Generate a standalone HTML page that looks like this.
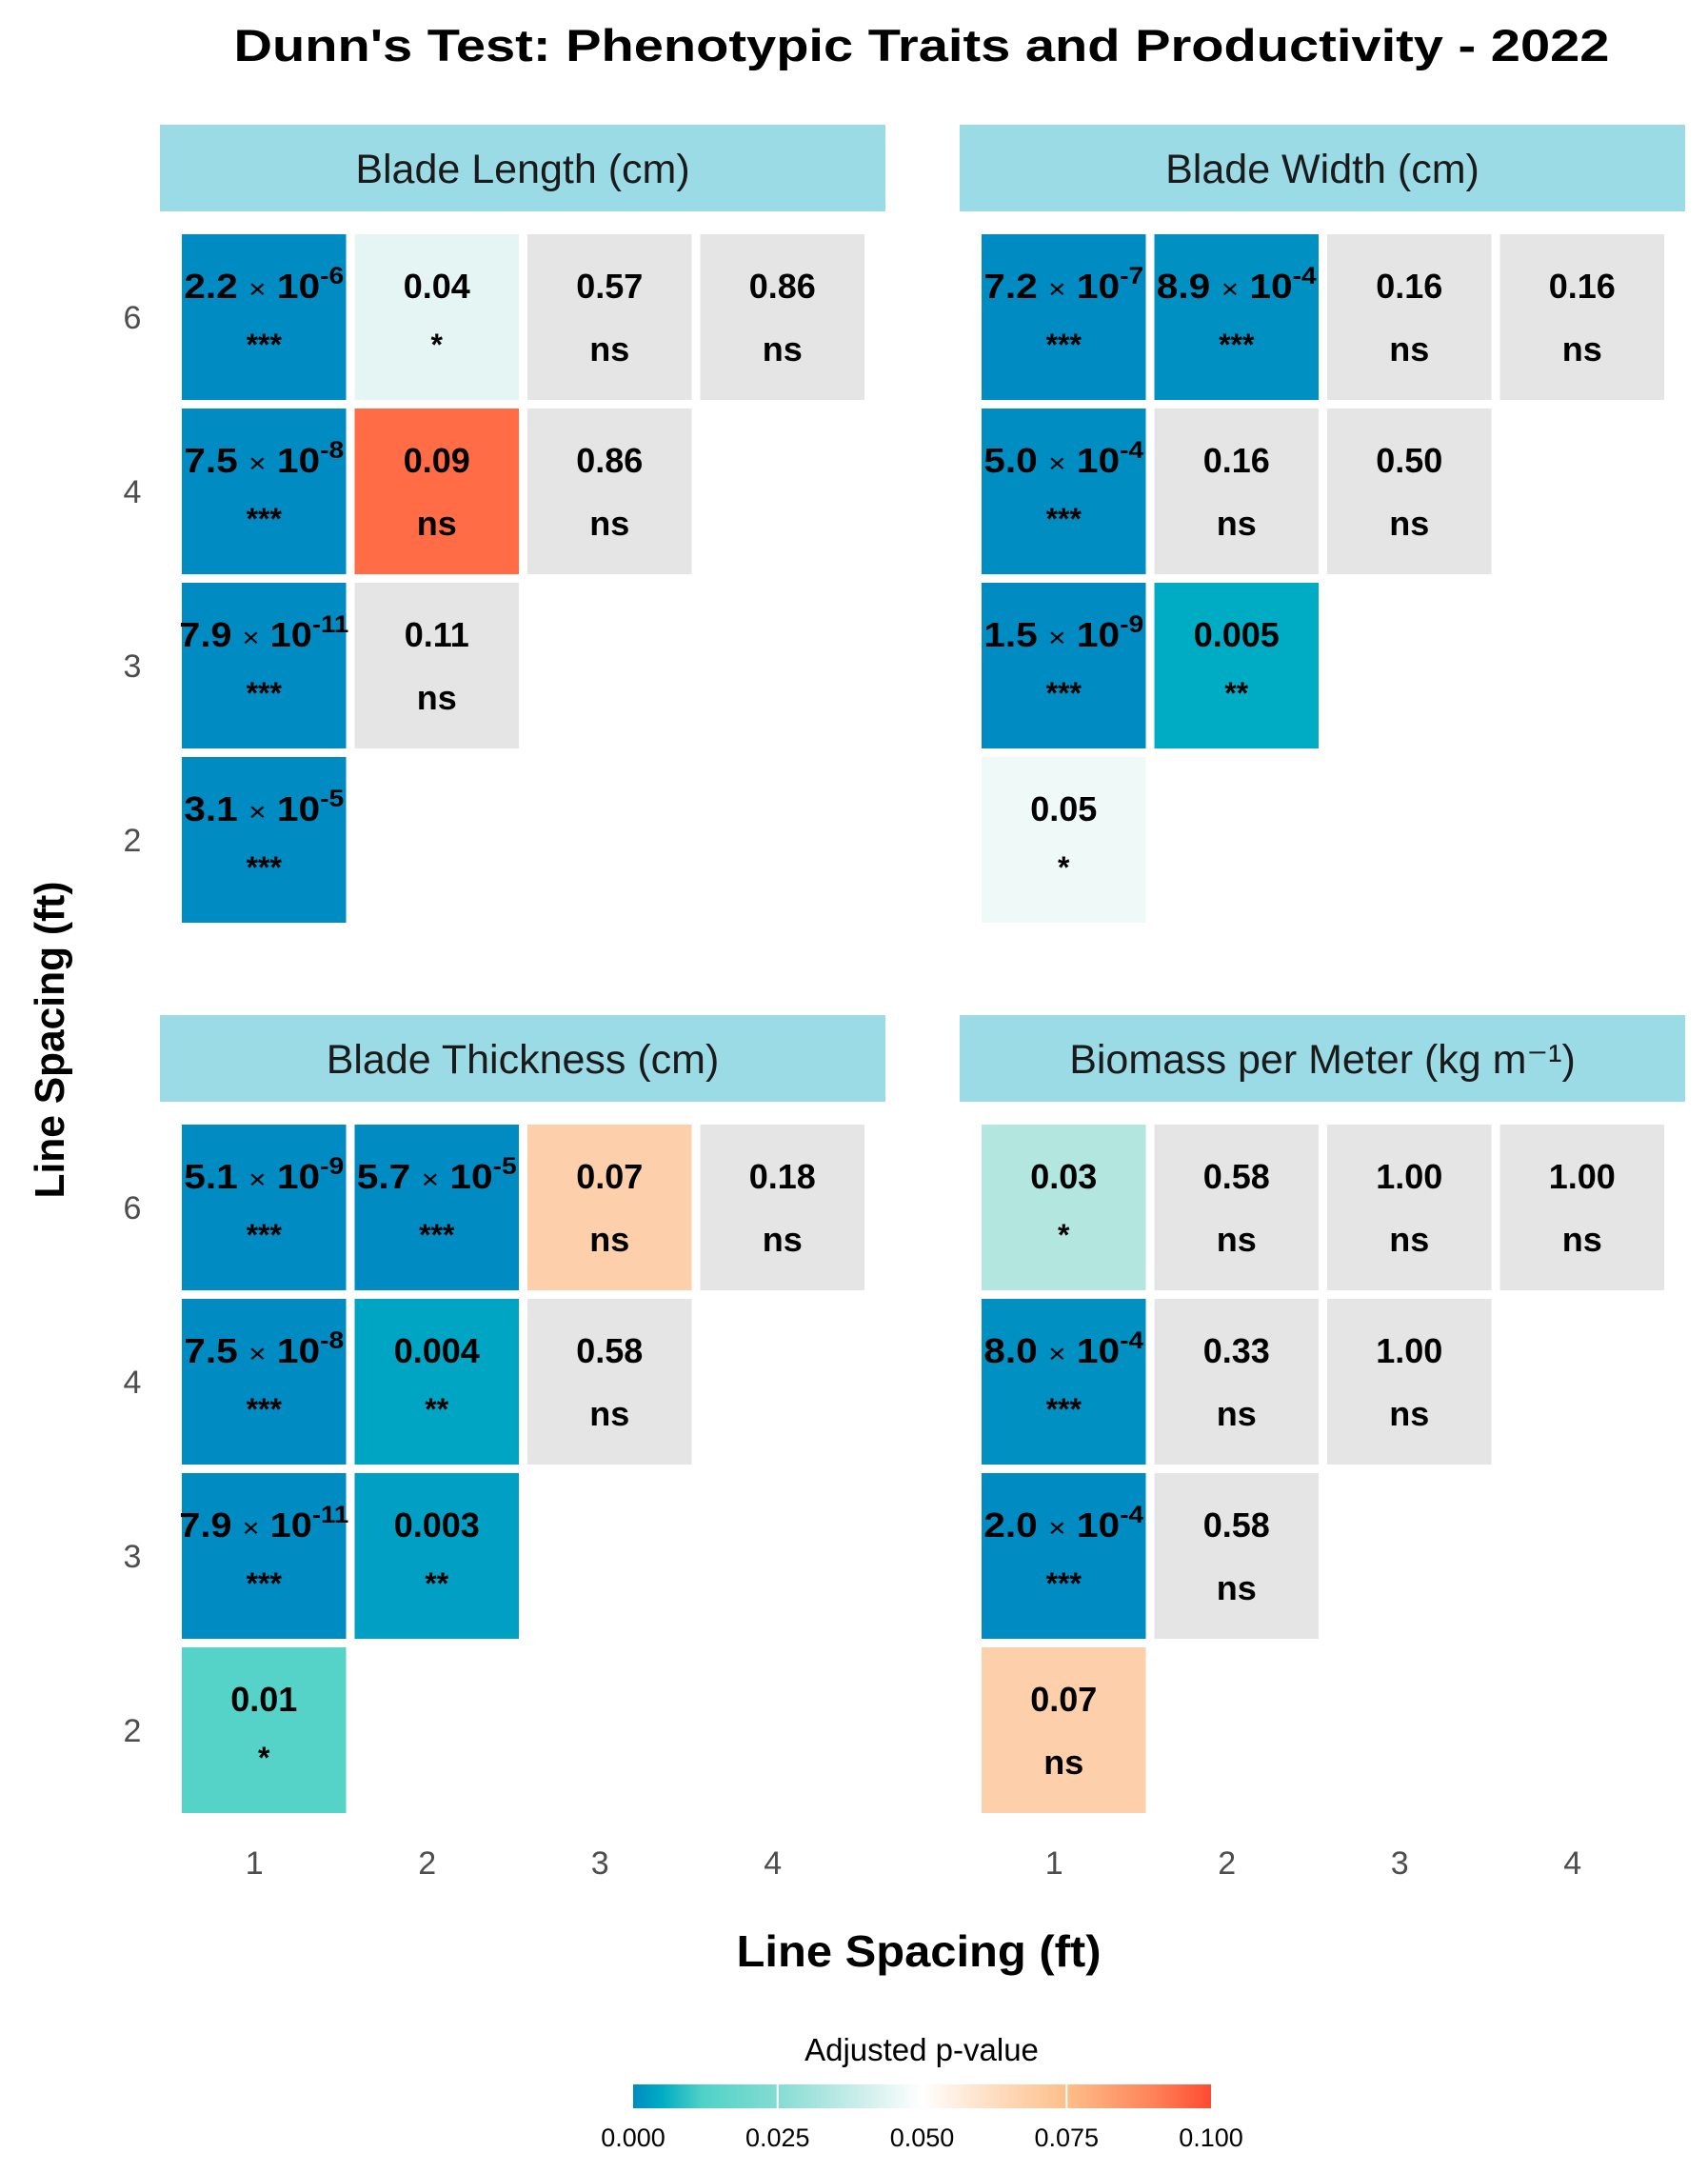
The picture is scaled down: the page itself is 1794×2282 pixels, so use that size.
<!DOCTYPE html>
<html><head><meta charset="utf-8">
<style>
html,body{margin:0;padding:0;background:#fff;}
svg{display:block;font-family:"Liberation Sans",Arial,sans-serif;}
</style></head>
<body>
<svg id="chart" width="1794" height="2282" viewBox="0 0 1794 2282" xmlns="http://www.w3.org/2000/svg">
<defs>
<linearGradient id="cbar" x1="0" x2="1" y1="0" y2="0">
<stop offset="0" stop-color="#008bc2"/>
<stop offset="0.05" stop-color="#00acc4"/>
<stop offset="0.12" stop-color="#4fd2c6"/>
<stop offset="0.25" stop-color="#84dcd3"/>
<stop offset="0.40" stop-color="#d0efeb"/>
<stop offset="0.5" stop-color="#ffffff"/>
<stop offset="0.6" stop-color="#fee3cc"/>
<stop offset="0.75" stop-color="#fdbf8a"/>
<stop offset="0.9" stop-color="#ff8258"/>
<stop offset="1" stop-color="#ff4a30"/>
</linearGradient>
</defs>
<text x="968" y="64" text-anchor="middle" font-size="47" font-weight="bold" fill="#000" textLength="1445" lengthAdjust="spacingAndGlyphs">Dunn's Test: Phenotypic Traits and Productivity - 2022</text>
<text transform="translate(67,1092) rotate(-90)" text-anchor="middle" font-size="44" font-weight="bold" textLength="333" lengthAdjust="spacingAndGlyphs">Line Spacing (ft)</text>
<text x="965" y="2065" text-anchor="middle" font-size="46" font-weight="bold" textLength="383" lengthAdjust="spacingAndGlyphs">Line Spacing (ft)</text>
<g id="panels"></g>
<g>
<text x="968" y="2164" text-anchor="middle" font-size="33" fill="#000">Adjusted p-value</text>
<rect x="665" y="2189" width="607" height="25" fill="url(#cbar)"/>
<g id="legend-ticks"></g>
</g>
</svg>
<script>
const panelTitles = ["Blade Length (cm)", "Blade Width (cm)", "Blade Thickness (cm)", "Biomass per Meter (kg m\u207B\u00B9)"];
const xCats = [1, 2, 3, 4];
const yCats = [6, 4, 3, 2];
const bladeLength = [[2.2e-6, 0.04, 0.57, 0.86], [7.5e-8, 0.09, 0.86], [7.9e-11, 0.11], [3.1e-5]];
const bladeWidth = [[7.2e-7, 8.9e-4, 0.16, 0.16], [5.0e-4, 0.16, 0.50], [1.5e-9, 0.005], [0.049]];
const bladeThickness = [[5.1e-9, 5.7e-5, 0.07, 0.18], [7.5e-8, 0.004, 0.58], [7.9e-11, 0.003], [0.01]];
const biomass = [[0.03, 0.58, 1.00, 1.00], [8.0e-4, 0.33, 1.00], [2.0e-4, 0.58], [0.07]];
const legendTicks = [0, 0.025, 0.05, 0.075, 0.1];

const NS = "http://www.w3.org/2000/svg";
const panelsData = [bladeLength, bladeWidth, bladeThickness, biomass];
const panelOrigins = [[168, 131], [1008, 131], [168, 1066], [1008, 1066]];
function xPos(ox, i) { return ox + 23 + i * 181.5; }
function yPos(oy, j) { return oy + 115 + j * 183; }
const cellW = 172.5, cellH = 174;

const stops = [[0, [0, 139, 194]], [0.005, [0, 172, 196]], [0.01, [85, 211, 200]], [0.025, [140, 222, 213]], [0.03, [180, 230, 224]], [0.04, [228, 245, 243]], [0.05, [240, 249, 248]], [0.07, [253, 208, 171]], [0.09, [255, 108, 69]], [0.1, [255, 74, 48]]];
function colorFor(p) {
  if (p > 0.1) return "#e5e5e5";
  for (let k = 1; k < stops.length; k++) {
    if (p <= stops[k][0]) {
      const a = stops[k - 1], b = stops[k];
      const t = (p - a[0]) / (b[0] - a[0]);
      const c = a[1].map((v, i) => Math.round(v + (b[1][i] - v) * t));
      return "rgb(" + c.join(",") + ")";
    }
  }
  return "#ff4a30";
}
function sig(p) { return p < 0.001 ? "***" : p < 0.01 ? "**" : p <= 0.05 ? "*" : "ns"; }
function mk(tag, attrs, parent) {
  const e = document.createElementNS(NS, tag);
  for (const k in attrs) e.setAttribute(k, attrs[k]);
  parent.appendChild(e);
  return e;
}
const root = document.getElementById("panels");
panelsData.forEach((data, pi) => {
  const [ox, oy] = panelOrigins[pi];
  const g = mk("g", {}, root);
  
  
  const strip = mk("rect", { x: ox, y: oy, width: 762, height: 91, fill: "#9bdbe6" }, g);
  
  
  const st = mk("text", { x: ox + 381, y: oy + 61, "text-anchor": "middle", "font-size": 43, fill: "#1a1a1a" }, g);
  st.textContent = panelTitles[pi];
  
  
  if (pi % 2 === 0) {
    yCats.forEach((yc, j) => {
      const t = mk("text", { x: 139, y: yPos(oy, j) + cellH / 2 + 12, "text-anchor": "middle", "font-size": 34, fill: "#4d4d4d" }, g);
      t.textContent = yc;
      
      
    });
  }
  if (pi >= 2) {
    xCats.forEach((xc, i) => {
      const t = mk("text", { x: xPos(ox, i) + cellW / 2 - 10, y: 1968, "text-anchor": "middle", "font-size": 34, fill: "#4d4d4d" }, g);
      t.textContent = xc;
      
      
    });
  }
  data.forEach((row, j) => {
    row.forEach((p, i) => {
      const x = xPos(ox, i), y = yPos(oy, j);
      const r = mk("rect", { x: x, y: y, width: cellW, height: cellH, fill: colorFor(p) }, g);
      
      
      const cx = x + cellW / 2, cy = y + cellH / 2;
      const vt = mk("text", { x: cx, y: cy - 20, "text-anchor": "middle", "font-size": 36, "font-weight": "bold", fill: "#000" }, g);
      
      
      if (p < 0.001) {
        const ex = Math.floor(Math.log10(p));
        const m = (p / Math.pow(10, ex)).toFixed(1);
        const s1 = mk("tspan", {}, vt); s1.textContent = m + " ";
        const s2 = mk("tspan", { "font-weight": "normal", "font-size": 28 }, vt); s2.textContent = "\u00D7";
        const s3 = mk("tspan", {}, vt); s3.textContent = " 10";
        const s4 = mk("tspan", { "font-size": 25, dy: -15 }, vt); s4.textContent = String(ex);
        const w = String(ex).length > 2 ? 178 : 168;
        vt.setAttribute("textLength", w);
        vt.setAttribute("lengthAdjust", "spacingAndGlyphs");
      } else {
        vt.textContent = p < 0.01 ? p.toFixed(3) : p.toFixed(2);
      }
      const s = sig(p);
      const sg = mk("text", { x: cx, y: s === "ns" ? cy + 46 : cy + 40, "text-anchor": "middle", "font-size": s === "ns" ? 36 : 32, "font-weight": "bold", fill: "#000" }, g);
      sg.textContent = s;
      
      
    });
  });
});
const lt = document.getElementById("legend-ticks");
legendTicks.forEach((v) => {
  const x = 665 + (v / 0.1) * 607;
  if (v > 0 && v < 0.1) {
    const l = mk("line", { x1: x, x2: x, y1: 2189, y2: 2214, stroke: "#fff", "stroke-width": 2 }, lt);
    
    
  }
  const t = mk("text", { x: x, y: 2254, "text-anchor": "middle", "font-size": 27, fill: "#000" }, lt);
  t.textContent = v.toFixed(3);
  
  
});
</script>
</body></html>
